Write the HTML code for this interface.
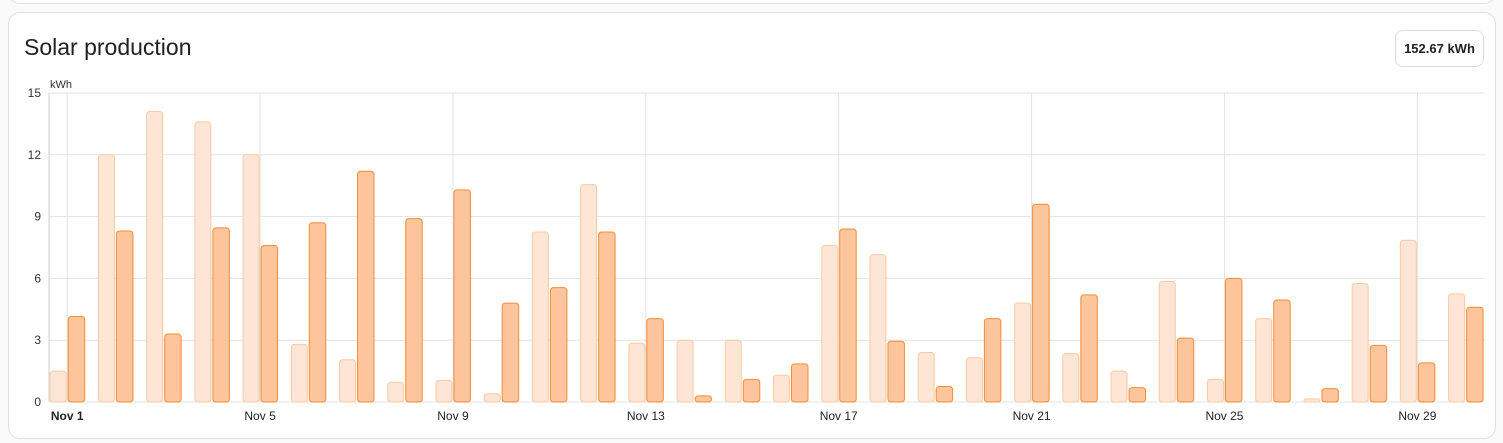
<!DOCTYPE html>
<html><head><meta charset="utf-8"><style>
html,body{margin:0;padding:0;background:#fafafa;width:1503px;height:443px;overflow:hidden;font-family:"Liberation Sans",sans-serif}
.top{position:absolute;left:8px;top:-20px;width:1486px;height:22px;border:1px solid #e0e0e0;border-radius:12px;background:#fff}
.card{position:absolute;left:8px;top:12px;width:1486px;height:425px;border:1px solid #e0e0e0;border-radius:12px;background:#fff}
.title{position:absolute;left:24px;top:34px;font-size:23px;color:#212121}
.badge{position:absolute;left:1395px;top:30px;width:87px;height:35px;border:1px solid #ddd;border-radius:8px;font-size:13px;font-weight:bold;line-height:35px;text-align:center;color:#212121}
svg{position:absolute;left:0;top:0}
</style></head><body>
<div class="top"></div>
<div class="card"></div>
<div class="title">Solar production</div>
<div class="badge">152.67 kWh</div>
<svg id="s" width="1503" height="443" xmlns="http://www.w3.org/2000/svg" font-family="Liberation Sans, sans-serif"></svg>
<script>
var L=[1.5,12,14.1,13.6,12,2.8,2.05,0.95,1.05,0.4,8.25,10.55,2.85,3,3,1.3,7.6,7.15,2.4,2.15,4.8,2.35,1.5,5.85,1.1,4.05,0.15,5.75,7.85,5.25];
var D=[4.15,8.3,3.3,8.45,7.6,8.7,11.2,8.9,10.3,4.8,5.55,8.25,4.05,0.3,1.1,1.85,8.4,2.95,0.75,4.05,9.6,5.2,0.7,3.1,6,4.95,0.65,2.75,1.9,4.6];
var h='';var y0=402,k=20.6;
for(var i=0;i<=5;i++){var y=y0-i*3*k;h+='<line x1="49" x2="1485" y1="'+y+'" y2="'+y+'" stroke="#e3e3e3"/>';h+='<text x="41" y="'+(y+4)+'" font-size="12" fill="#333" text-anchor="end">'+(i*3)+'</text>';}
h+='<line x1="49" x2="49" y1="93" y2="402" stroke="#ccc"/>';
h+='<text x="50" y="88" font-size="11" fill="#333">kWh</text>';
for(var d=0;d<30;d++){var c=67.2+d*48.22;
if(d%4==0){h+='<line x1="'+c+'" x2="'+c+'" y1="93" y2="402" stroke="#e3e3e3"/>';
h+='<text x="'+c+'" y="420" font-size="12" fill="#222" text-anchor="middle"'+(d==0?' font-weight="bold"':'')+'>Nov '+(d+1)+'</text>';}
var hl=L[d]*k,hd=D[d]*k;
h+='<rect x="'+(c-17)+'" y="'+(y0-hl)+'" width="16" height="'+hl+'" rx="3" fill="#fde6d6" stroke="#fbc9a3" stroke-width="1"/>';
h+='<rect x="'+(c+1)+'" y="'+(y0-hd)+'" width="16.5" height="'+hd+'" rx="3" fill="#fdc59c" stroke="#f68c35" stroke-width="1"/>';}
document.getElementById('s').innerHTML=h;
</script>
</body></html>
